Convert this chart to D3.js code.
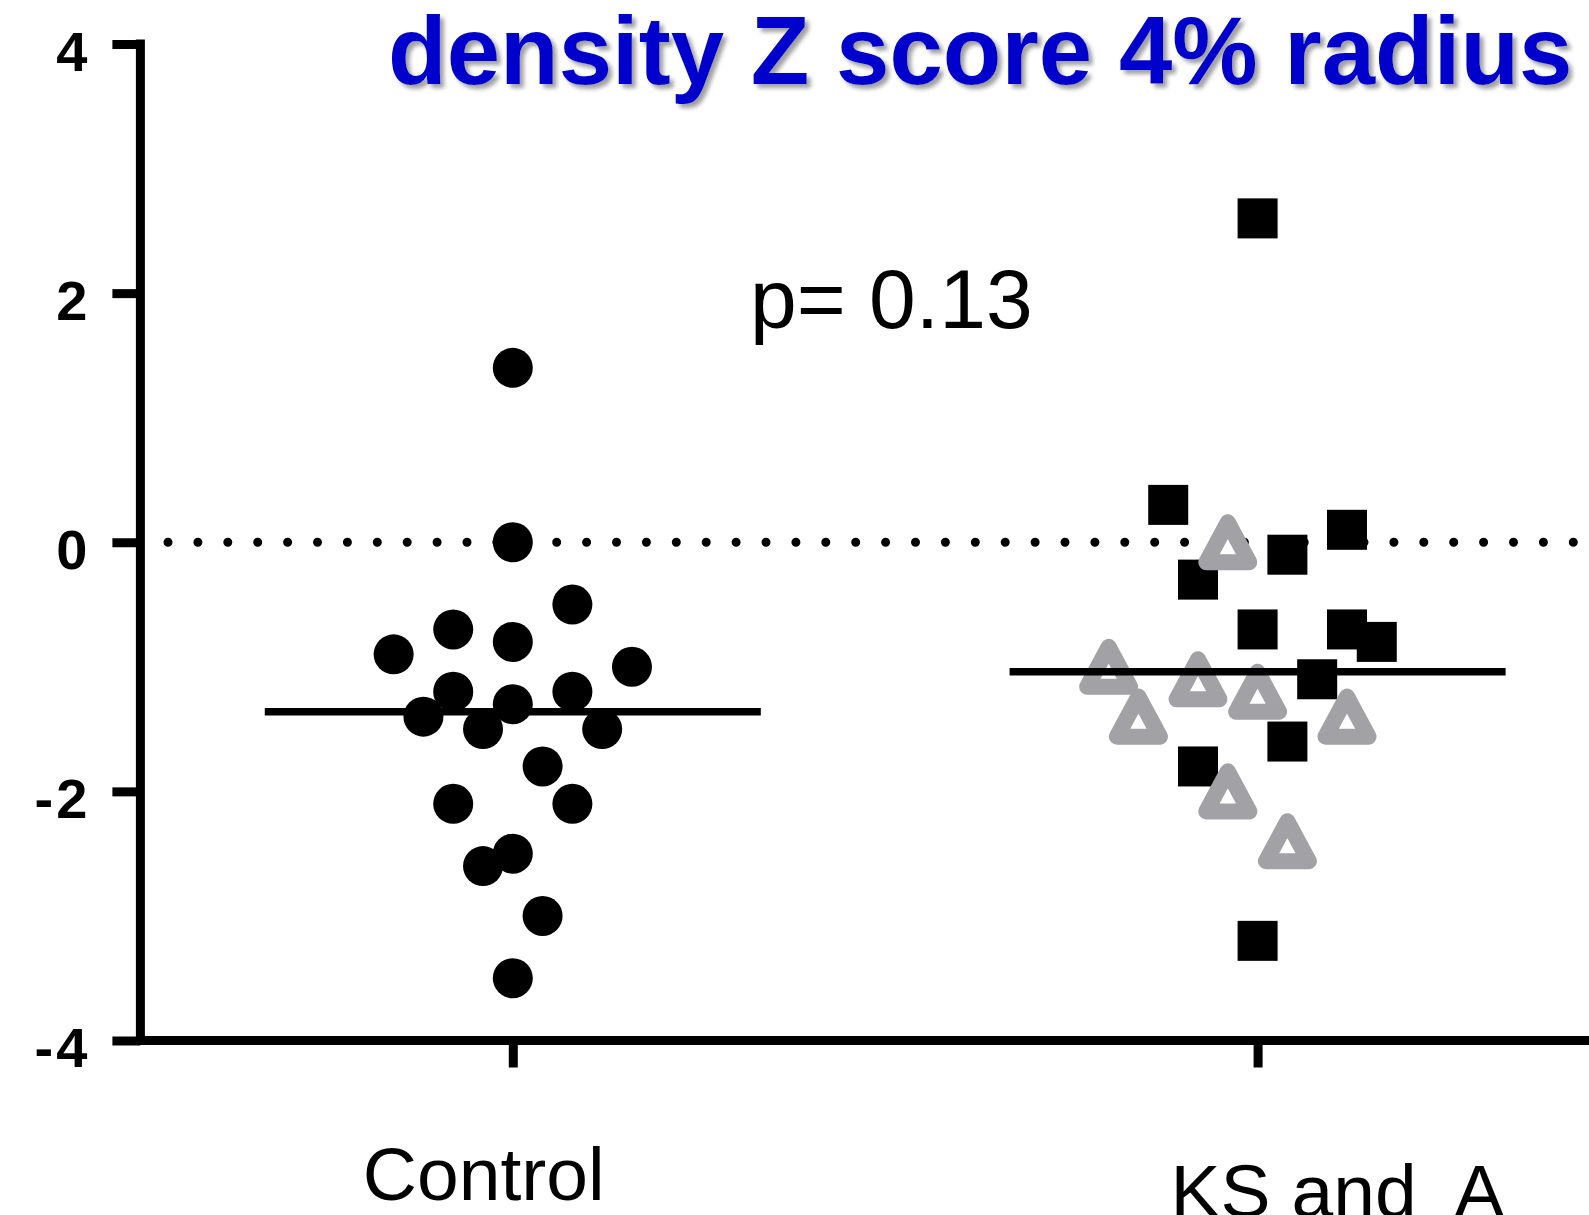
<!DOCTYPE html>
<html lang="en">
    <head>
        <meta charset="UTF-8">
        <title>density Z score 4% radius</title>
        <script src="https://cdn.jsdelivr.net/npm/d3@7"></script>
        <style>
            html, body { margin: 0; padding: 0; background: #fff; }
            svg { display: block; }
        </style>
    </head>
    <body>
        <script>
            // values
            const groups = ["Control", "KS and  A"];
            const yTicks = [-4, -2, 0, 2, 4];

            const controlValues = [1.4, 0, -0.5, -0.7, -0.8, -0.9, -1.0, -1.2, -1.2, -1.3, -1.4, -1.5, -1.5, -1.8, -2.1, -2.1, -2.5, -2.6, -3.0, -3.5];
            const controlSpread = [0, 0, 2, -2, 0, -4, 4, -2, 2, 0, -3, -1, 3, 1, -2, 2, 0, -1, 1, 0];

            const ksValues = [2.6, 0.3, 0.1, -0.1, -0.3, -0.7, -0.7, -0.8, -1.1, -1.6, -1.8, -3.2];
            const ksSpread = [0, -3, 3, 1, -2, 0, 3, 4, 2, 1, -2, 0];

            const aValues = [0.0, -1.0, -1.1, -1.2, -1.4, -1.4, -2.0, -2.4];
            const aSpread = [-1, -5, -2, 0, -4, 3, -1, 1];

            const groupMeans = [-1.36, -1.04];
            const pText = "p= 0.13";
            const title = "density Z score 4% radius";

            const width = 1589;
            const height = 1215;
            const font = "'Liberation Sans', Arial, Helvetica, sans-serif";

            const xScale = d3
                .scaleLinear()
                .domain([0.5, 2.5])
                .range([140.4, 1630]);

            const yScale = d3
                .scaleLinear()
                .domain([-4, 4])
                .range([1040.5, 44]);

            const spreadStep = 0.04;   // one column of the scatter, in x units
            const meanHalf = 0.333;

            const svg = d3
                .select("body")
                .append("svg")
                .attr("width", width)
                .attr("height", height);

            svg.append("rect")
                .attr("width", width)
                .attr("height", height)
                .attr("fill", "#fff");

            const defs = svg.append("defs");
            defs.append("filter")
                .attr("id", "shadow")
                .attr("x", "-5%").attr("y", "-20%")
                .attr("width", "110%").attr("height", "150%")
                .append("feDropShadow")
                .attr("dx", 4)
                .attr("dy", 4)
                .attr("stdDeviation", 2)
                .attr("flood-color", "#808080")
                .attr("flood-opacity", 0.75);

            // dotted zero line
            svg.append("line")
                .attr("x1", 168)
                .attr("x2", width + 10)
                .attr("y1", yScale(0))
                .attr("y2", yScale(0))
                .attr("stroke", "#000")
                .attr("stroke-width", 9)
                .attr("stroke-linecap", "round")
                .attr("stroke-dasharray", "0 29.9");

            // control circles
            svg.append("g")
                .selectAll("circle")
                .data(controlValues)
                .enter()
                .append("circle")
                .attr("cx", (d, i) => xScale(1 + controlSpread[i] * spreadStep))
                .attr("cy", (d) => yScale(d))
                .attr("r", 20)
                .attr("fill", "#000");

            // KS squares
            svg.append("g")
                .selectAll("rect")
                .data(ksValues)
                .enter()
                .append("rect")
                .attr("x", (d, i) => xScale(2 + ksSpread[i] * spreadStep) - 20)
                .attr("y", (d) => yScale(d) - 20)
                .attr("width", 40)
                .attr("height", 40)
                .attr("fill", "#000");

            // A triangles (open, grey)
            const triPath = "M0,-20L21.5,20L-21.5,20Z";
            svg.append("g")
                .selectAll("path")
                .data(aValues)
                .enter()
                .append("path")
                .attr("d", triPath)
                .attr("transform", (d, i) => "translate(" + xScale(2 + aSpread[i] * spreadStep) + "," + yScale(d) + ")")
                .attr("fill", "#fff")
                .attr("stroke", "#a1a1a6")
                .attr("stroke-width", 16)
                .attr("stroke-linejoin", "round");

            // mean lines
            svg.append("g")
                .selectAll("line")
                .data(groupMeans)
                .enter()
                .append("line")
                .attr("x1", (d, i) => xScale(i + 1 - meanHalf))
                .attr("x2", (d, i) => xScale(i + 1 + meanHalf))
                .attr("y1", (d) => yScale(d))
                .attr("y2", (d) => yScale(d))
                .attr("stroke", "#000")
                .attr("stroke-width", 7.5);

            // y axis
            const yAxis = svg.append("g")
                .attr("transform", "translate(" + xScale(0.5) + ",0)")
                .call(d3.axisLeft(yScale)
                    .tickValues(yTicks)
                    .tickSize(28)
                    .tickSizeOuter(0)
                    .tickFormat((d) => String(d)));
            yAxis.select(".domain").remove();
            yAxis.selectAll(".tick line")
                .attr("stroke", "#000")
                .attr("stroke-width", 9);
            yAxis.selectAll(".tick text")
                .attr("x", -50)
                .attr("dy", null)
                .attr("y", 26)
                .attr("fill", "#000")
                .style("font-family", font)
                .style("font-weight", "bold")
                .style("font-size", "56px")
                .style("letter-spacing", "3px");
            yAxis.append("line")
                .attr("x1", 0).attr("x2", 0)
                .attr("y1", yScale(4)).attr("y2", yScale(-4))
                .attr("stroke", "#000")
                .attr("stroke-width", 9)
                .attr("stroke-linecap", "square");

            // x axis
            const xAxis = svg.append("g")
                .attr("transform", "translate(0," + yScale(-4) + ")")
                .call(d3.axisBottom(xScale).tickValues([1, 2]).tickSize(27).tickSizeOuter(0).tickFormat(""));
            xAxis.select(".domain").remove();
            xAxis.selectAll(".tick line")
                .attr("stroke", "#000")
                .attr("stroke-width", 9);
            xAxis.append("line")
                .attr("x1", xScale(0.5)).attr("x2", width + 10)
                .attr("y1", 0).attr("y2", 0)
                .attr("stroke", "#000")
                .attr("stroke-width", 9);

            // category labels
            const labelOffsets = [[-150, 1200], [-87, 1217]];
            svg.append("g")
                .selectAll("text")
                .data(groups)
                .enter()
                .append("text")
                .attr("x", (d, i) => xScale(i + 1) + labelOffsets[i][0])
                .attr("y", (d, i) => labelOffsets[i][1])
                .attr("fill", "#000")
                .style("font-family", font)
                .style("font-size", "75px")
                .style("white-space", "pre")
                .text((d) => d);

            // p value
            svg.append("text")
                .attr("x", 750)
                .attr("y", 328)
                .attr("fill", "#000")
                .style("font-family", font)
                .style("font-size", "84px")
                .text(pText);

            // title
            svg.append("text")
                .attr("x", 388)
                .attr("y", 84)
                .attr("fill", "#0000cc")
                .attr("filter", "url(#shadow)")
                .style("font-family", font)
                .style("font-weight", "bold")
                .style("font-size", "96px")
                .text(title);
        </script>
    </body>
</html>
